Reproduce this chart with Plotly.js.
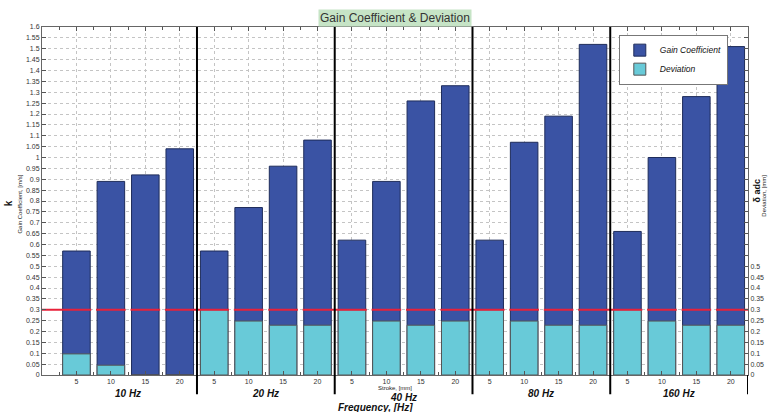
<!DOCTYPE html>
<html>
<head>
<meta charset="utf-8">
<script src="https://cdn.plot.ly/plotly-3.0.1.min.js"></script>
<style>html,body{margin:0;padding:0;background:#fff;}#chart{width:768px;height:412px;}</style>
</head>
<body>
<div id="chart"></div>
<script>
// ---- data ----
const groups = ['10 Hz', '20 Hz', '40 Hz', '80 Hz', '160 Hz'];
const strokes = ['5', '10', '15', '20'];
const gainCoefficient = [0.57, 0.89, 0.92, 1.04,
                         0.57, 0.77, 0.96, 1.08,
                         0.62, 0.89, 1.26, 1.33,
                         0.62, 1.07, 1.19, 1.52,
                         0.66, 1.00, 1.28, 1.51];
const deviation = [0.097, 0.045, 0, 0,
                   0.30, 0.248, 0.229, 0.229,
                   0.30, 0.248, 0.229, 0.248,
                   0.30, 0.248, 0.229, 0.229,
                   0.30, 0.248, 0.229, 0.229];
const threshold = 0.3;

// ---- derived positions ----
const nPer = strokes.length;
const pos = [], tickText = [];
groups.forEach((g, gi) => strokes.forEach((s, si) => { pos.push(gi * nPer + si + 1); tickText.push(s); }));
const xMax = pos.length + 0.5;

// threshold line: continuous, with small breaks between bars inside a group
const thX = [0], thY = [threshold];
pos.forEach((p, i) => {
  if ((i + 1) % nPer !== 0 && i < pos.length - 1) {
    thX.push(p + 0.43, null, p + 0.57);
    thY.push(threshold, null, threshold);
  }
});
thX.push(xMax); thY.push(threshold);

const FONT = 'Liberation Sans, Arial, sans-serif';

const traces = [
  { type: 'bar', name: 'Gain Coefficient', x: pos, y: gainCoefficient, width: 0.8,
    marker: { color: '#3a53a4', line: { color: '#1e2c5a', width: 1 } }, yaxis: 'y' },
  { type: 'bar', name: 'Deviation', x: pos, y: deviation, width: 0.8,
    marker: { color: '#68cad8', line: { color: '#555', width: 1 } }, yaxis: 'y2' },
  { type: 'scatter', mode: 'lines', x: thX, y: thY, yaxis: 'y2', showlegend: false,
    connectgaps: false, line: { color: '#e8213a', width: 2 } }
];

const yTicks = [];
for (let v = 0; v <= 1.6001; v += 0.05) yTicks.push(Math.round(v * 100) / 100);
const y2Text = yTicks.map(v => v <= 0.5001 ? String(v) : '');

const shapes = [];
for (let gi = 1; gi <= groups.length; gi++) {
  const xb = gi * nPer + 0.5;
  shapes.push({ type: 'line', xref: 'x', yref: 'paper', x0: xb, x1: xb,
    y0: -0.055, y1: gi === groups.length ? 0 : 1, layer: 'above', line: { color: '#000', width: 2 } });
}

const annotations = [
  { text: 'Gain Coefficient & Deviation', xref: 'paper', yref: 'paper', x: 0.5, y: 1.026,
    xanchor: 'center', yanchor: 'middle', showarrow: false, bgcolor: '#c6e4c6', borderpad: 1,
    font: { family: FONT, size: 12, color: '#333' } },
  { text: 'Stroke, [mm]', xref: 'paper', yref: 'paper', x: 0.5, y: -0.036,
    xanchor: 'center', yanchor: 'middle', showarrow: false, font: { family: FONT, size: 6, color: '#222' } },
  { text: '<b><i>Frequency, [Hz]</i></b>', xref: 'paper', yref: 'paper', x: 0.473, y: -0.092,
    xanchor: 'center', yanchor: 'middle', showarrow: false, font: { family: FONT, size: 10, color: '#111' } },
  { text: '<b>k</b>', xref: 'paper', yref: 'paper', x: -0.048, y: 0.494, textangle: -90,
    xanchor: 'center', yanchor: 'middle', showarrow: false, font: { family: FONT, size: 10, color: '#111' } },
  { text: 'Gain Coefficient, [m/s]', xref: 'paper', yref: 'paper', x: -0.031, y: 0.49, textangle: -90,
    xanchor: 'center', yanchor: 'middle', showarrow: false, font: { family: FONT, size: 6, color: '#222' } },
  { text: '<b>δ adc</b>', xref: 'paper', yref: 'paper', x: 1.0125, y: 0.53, textangle: -90,
    xanchor: 'center', yanchor: 'middle', showarrow: false, font: { family: FONT, size: 9, color: '#111' } },
  { text: 'Deviation, [mm]', xref: 'paper', yref: 'paper', x: 1.0225, y: 0.515, textangle: -90,
    xanchor: 'center', yanchor: 'middle', showarrow: false, font: { family: FONT, size: 6, color: '#222' } }
];
groups.forEach((g, gi) => {
  annotations.push({ text: '<b><i>' + g + '</i></b>', xref: 'x', yref: 'paper',
    x: gi * nPer + (nPer + 1) / 2, y: gi === 2 ? -0.065 : -0.052,
    xanchor: 'center', yanchor: 'middle', showarrow: false, font: { family: FONT, size: 10, color: '#111' } });
});

const layout = {
  width: 768, height: 412,
  margin: { l: 42, r: 20, t: 27, b: 37 },
  paper_bgcolor: '#fff', plot_bgcolor: '#fff',
  barmode: 'overlay', showlegend: true,
  font: { family: FONT, size: 7, color: '#333' },
  xaxis: { range: [0, xMax], tickmode: 'array', tickvals: pos, ticktext: tickText,
    ticks: 'inside', ticklen: 4, tickcolor: '#555', showgrid: true, gridcolor: '#c4c4c4', griddash: 'dot',
    showline: true, linecolor: '#666', linewidth: 1, mirror: 'ticks', zeroline: false,
    tickfont: { size: 7, color: '#333' },
    minor: { tick0: 0.5, dtick: 1, ticks: 'inside', ticklen: 3, tickcolor: '#555', showgrid: false } },
  yaxis: { range: [0, 1.6], tickmode: 'array', tickvals: yTicks, ticktext: yTicks.map(String),
    ticks: 'inside', ticklen: 4, tickcolor: '#555', showgrid: true, gridcolor: '#c4c4c4', griddash: 'dot',
    showline: true, linecolor: '#666', zeroline: false, tickfont: { size: 7, color: '#333' } },
  yaxis2: { range: [0, 1.6], overlaying: 'y', side: 'right', tickmode: 'array', tickvals: yTicks, ticktext: y2Text,
    ticks: 'inside', ticklen: 4, tickcolor: '#555', showgrid: false, showline: true, linecolor: '#666',
    zeroline: false, tickfont: { size: 7, color: '#333' } },
  legend: { x: 0.817, y: 0.978, xanchor: 'left', yanchor: 'top', bgcolor: '#fff',
    bordercolor: '#777', borderwidth: 1, font: { family: FONT, size: 8.5, style: 'italic', color: '#111' },
    tracegroupgap: 0, itemwidth: 30 },
  shapes: shapes,
  annotations: annotations,
  hovermode: false
};

Plotly.newPlot('chart', traces, layout, { staticPlot: true, displayModeBar: false });
</script>
</body>
</html>
